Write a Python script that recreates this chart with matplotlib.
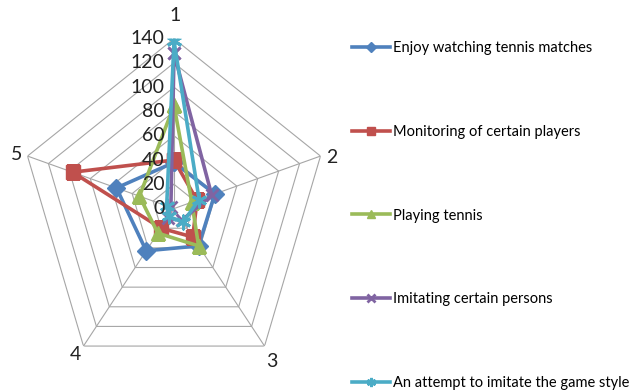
import numpy as np
import matplotlib
matplotlib.use('Agg')
import matplotlib.pyplot as plt

plt.rcParams['font.family'] = ['Lato', 'DejaVu Sans']

categories = ["1", "2", "3", "4", "5"]
r_ticks = [0, 20, 40, 60, 80, 100, 120, 140]

series_names = [
    "Enjoy watching tennis matches",
    "Monitoring of certain players",
    "Playing tennis",
    "Imitating certain persons",
    "An attempt to imitate the game style",
]
enjoy = [38, 39, 38, 43, 55]
monitoring = [40, 22, 29, 20, 97]
playing = [85, 17, 38, 25, 33]
imitating = [128, 36, 12, 10, 3]
attempt = [138, 24, 14, 8, 7]

colors = ["#4F81BD", "#C0504D", "#9BBB59", "#8064A2", "#4BACC6"]
markers = ["D", "s", "^", "x", (6, 2, 0)]
msizes = [9, 10, 10, 9, 11]

fig = plt.figure(figsize=(6.3, 3.92), dpi=100)
ax = fig.add_axes([0.0317, 0.0344, 0.489, 0.867], projection='polar')
ax.set_aspect('auto')
ax.set_theta_zero_location('N')
ax.set_theta_direction(-1)

angles = np.linspace(0, 2 * np.pi, len(categories), endpoint=False)
closed = np.append(angles, angles[0])

# pentagon grid
for r in r_ticks[1:]:
    ax.plot(closed, [r] * len(closed), color="#a6a6a6", lw=0.8, zorder=1)
for a in angles:
    ax.plot([a, a], [0, r_ticks[-1]], color="#a6a6a6", lw=0.8, zorder=1)

ax.grid(False)
ax.spines['polar'].set_visible(False)
ax.set_xticks([])
ax.set_yticks([])
ax.set_ylim(0, 140)

data = [enjoy, monitoring, playing, imitating, attempt]
for name, vals, c, m, ms in zip(series_names, data, colors, markers, msizes):
    v = vals + vals[:1]
    ax.plot(closed, v, color=c, lw=2.6, marker=m, markersize=ms,
            markeredgewidth=2 if m in ("x",) or isinstance(m, tuple) else 1,
            markeredgecolor=c, label=name, zorder=3)

for r in r_ticks:
    ax.annotate(str(r), xy=(0, r), xytext=(-7, 0), textcoords='offset points',
                ha='right', va='center', fontsize=14, color="#222222")

label_off = [(1, 17), (8, -1), (5, -11), (-6, -6), (-8, 1)]
for a, lab, off in zip(angles, categories, label_off):
    ax.annotate(lab, xy=(a, 140), xytext=off, textcoords='offset points',
                ha='center', va='center', fontsize=14, color="#222222")

handles, labels = ax.get_legend_handles_labels()
leg = fig.legend(handles, labels, loc='upper left', bbox_to_anchor=(0.55, 0.91),
                 frameon=False, fontsize=10.5, handlelength=2.6, handletextpad=0.2,
                 labelspacing=4.78, markerscale=0.6, borderaxespad=0)

fig.savefig("out.png", dpi=100)
